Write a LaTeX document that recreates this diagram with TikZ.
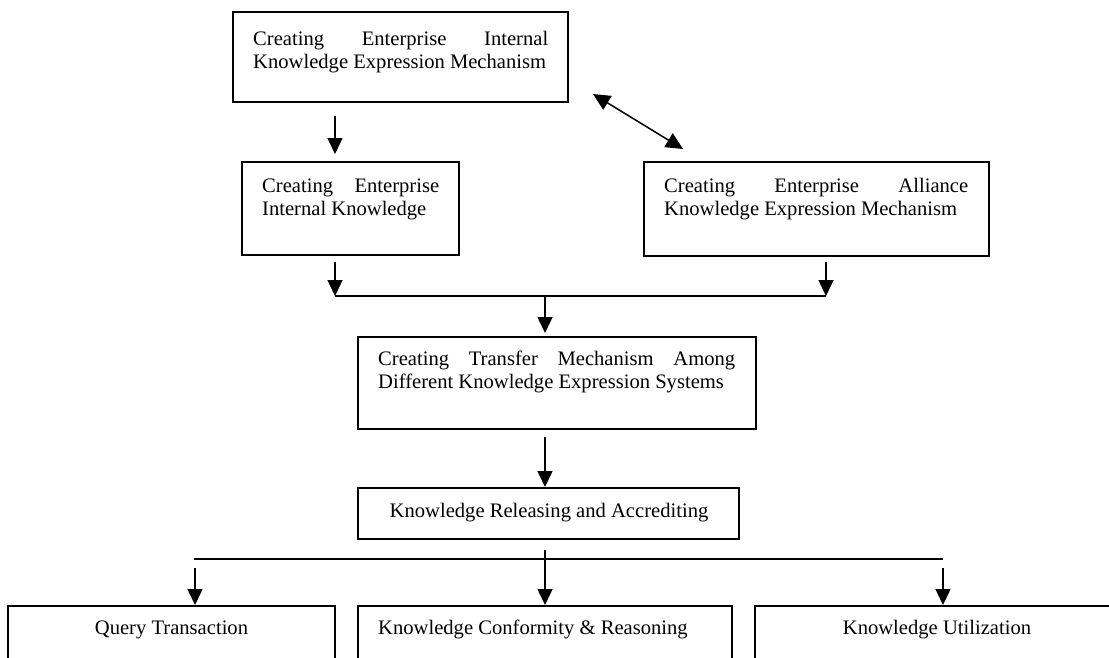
\documentclass[tikz,border=0pt]{standalone}
\usepackage{fontspec}
\setmainfont{Liberation Serif}
\usetikzlibrary{arrows.meta}
\newcommand{\jtext}[2]{\parbox[t]{#1}{\hyphenpenalty=10000 #2}}
\begin{document}
\begin{tikzpicture}[x=1pt,y=-1pt,
  box/.style={draw, line width=1.9pt, anchor=north west, inner sep=0pt, outer sep=0pt},
  txt/.style={anchor=base west, inner sep=0pt, font=\fontsize{20.6pt}{23pt}\selectfont},
  ctxt/.style={anchor=base, inner sep=0pt, font=\fontsize{20.6pt}{23pt}\selectfont},
  conn/.style={line width=1.8pt},
  arr/.style={line width=1.5pt, -{Triangle[length=16pt,width=15pt]}},
  darr/.style={line width=1.5pt, {Triangle[length=17pt,width=16pt]}-{Triangle[length=17pt,width=16pt]}}
]
\clip (0,0) rectangle (1109,657);
\fill[white] (0,0) rectangle (1109,657);

% boxes
\node[box, minimum width=335pt, minimum height=90pt] (top) at (233,12) {};
\node[txt] (toptxt) at (253,45) {\jtext{295pt}{Creating Enterprise Internal\linebreak Knowledge Expression Mechanism}};

\node[box, minimum width=217pt, minimum height=93pt] (int) at (242,162) {};
\node[txt] (inttxt) at (262,192) {\jtext{177pt}{Creating Enterprise\linebreak Internal Knowledge}};

\node[box, minimum width=345pt, minimum height=94pt] (all) at (644,162) {};
\node[txt] (alltxt) at (664,192) {\jtext{304pt}{Creating Enterprise Alliance\linebreak Knowledge Expression Mechanism}};

\node[box, minimum width=398pt, minimum height=92pt] (trans) at (358,337) {};
\node[txt] (transtxt) at (378,365) {\jtext{357pt}{Creating Transfer Mechanism Among\linebreak Different Knowledge Expression Systems}};

\node[box, minimum width=381pt, minimum height=51pt] (rel) at (358,488) {};
\node[ctxt] (reltxt) at (549,517) {Knowledge Releasing and Accrediting};

\node[box, minimum width=327pt, minimum height=100pt] (query) at (8,606) {};
\node[ctxt] (querytxt) at (171.5,634) {Query Transaction};

\node[box, minimum width=374pt, minimum height=100pt] (conf) at (358,606) {};
\node[txt] (conftxt) at (378,634) {Knowledge Conformity \& Reasoning};

\node[box, minimum width=365pt, minimum height=100pt] (util) at (755,606) {};
\node[ctxt] (utiltxt) at (937,634) {Knowledge Utilization};

% connector points
\coordinate (a1s) at (335,116); \coordinate (a1e) at (335,154);
\coordinate (d1) at (593,94); \coordinate (d2) at (683,149);
\coordinate (a2s) at (335,262); \coordinate (a2e) at (335,296);
\coordinate (a3s) at (826,262); \coordinate (a3e) at (826,296);
\coordinate (h1l) at (335,296); \coordinate (h1r) at (826,296);
\coordinate (a4s) at (545,296); \coordinate (a4e) at (545,333);
\coordinate (a5s) at (545,437); \coordinate (a5e) at (545,487);
\coordinate (a6s) at (545,550); \coordinate (a6e) at (545,605);
\coordinate (h2l) at (194,559); \coordinate (h2r) at (943,559);
\coordinate (a7s) at (195,568); \coordinate (a7e) at (195,605);
\coordinate (a8s) at (943,568); \coordinate (a8e) at (943,605);

\draw[arr] (a1s) -- (a1e);
\draw[darr] (d1) -- (d2);
\draw[arr] (a2s) -- (a2e);
\draw[arr] (a3s) -- (a3e);
\draw[conn] (h1l) -- (h1r);
\draw[arr] (a4s) -- (a4e);
\draw[arr] (a5s) -- (a5e);
\draw[arr] (a6s) -- (a6e);
\draw[conn] (h2l) -- (h2r);
\draw[arr] (a7s) -- (a7e);
\draw[arr] (a8s) -- (a8e);
\end{tikzpicture}
\end{document}
